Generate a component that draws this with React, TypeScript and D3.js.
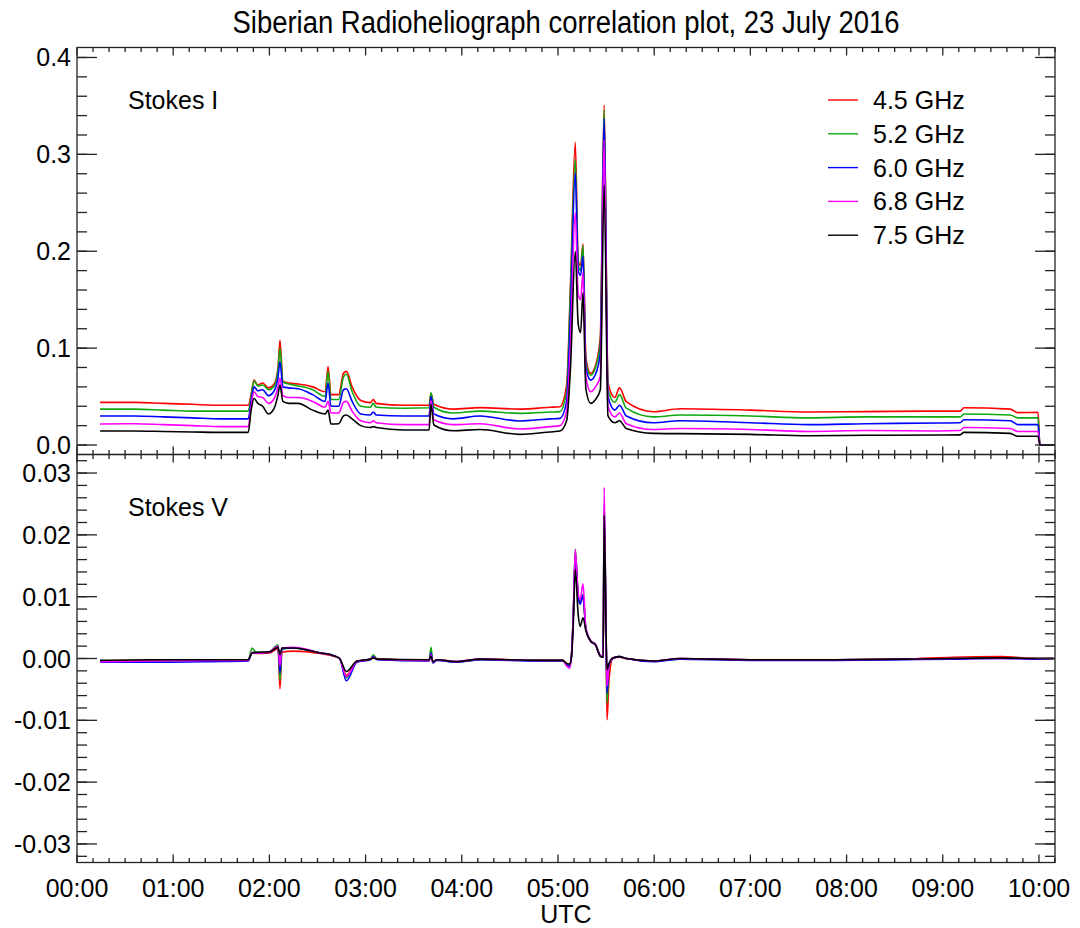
import React from "react";
import * as d3 from "d3";

const W = 1080;
const H = 928;
const left = 77;
const right = 1055;
const top1 = 47.5;
const mid = 454.5;
const bot2 = 862.5;

const freqs = ["4.5 GHz", "5.2 GHz", "6.0 GHz", "6.8 GHz", "7.5 GHz"];
const colors = ["#ff0000", "#10a810", "#0000ff", "#ff00ff", "#000000"];

// Stokes I, time in hours UTC
const tI = [0.24, 0.6, 0.9, 1.2, 1.5, 1.78, 1.81, 1.84, 1.88, 1.93, 1.99, 2.05, 2.09, 2.11, 2.14, 2.2, 2.3, 2.45, 2.58, 2.61, 2.64, 2.72, 2.77, 2.8, 2.86, 2.95, 3.05, 3.08, 3.11, 3.4, 3.66, 3.68, 3.71, 3.91, 4.19, 4.6, 4.92, 5.02, 5.09, 5.13, 5.18, 5.21, 5.235, 5.26, 5.29, 5.34, 5.39, 5.44, 5.48, 5.52, 5.59, 5.64, 5.71, 5.99, 6.27, 7.0, 7.6, 8.2, 8.95, 9.18, 9.22, 9.7, 9.78, 9.99, 10.01, 10.15];
const i45 = [0.044, 0.044, 0.043, 0.042, 0.041, 0.041, 0.052, 0.067, 0.062, 0.064, 0.059, 0.063, 0.08, 0.108, 0.066, 0.064, 0.063, 0.06, 0.055, 0.081, 0.052, 0.052, 0.074, 0.076, 0.06, 0.046, 0.0437, 0.047, 0.043, 0.041, 0.041, 0.053, 0.042, 0.037, 0.0386, 0.037, 0.039, 0.0395, 0.062, 0.165, 0.3125, 0.19, 0.185, 0.2075, 0.09, 0.074, 0.082, 0.112, 0.351, 0.064, 0.049, 0.059, 0.0447, 0.0344, 0.0375, 0.036, 0.034, 0.0345, 0.035, 0.035, 0.0385, 0.037, 0.0334, 0.0337, 0, 0];
const i52 = [0.037, 0.037, 0.036, 0.035, 0.035, 0.035, 0.05, 0.066, 0.061, 0.062, 0.057, 0.061, 0.078, 0.1, 0.065, 0.063, 0.061, 0.057, 0.05, 0.076, 0.047, 0.047, 0.07, 0.073, 0.055, 0.04, 0.039, 0.043, 0.039, 0.038, 0.0385, 0.054, 0.039, 0.033, 0.035, 0.0327, 0.034, 0.0345, 0.055, 0.16, 0.295, 0.185, 0.18, 0.206, 0.085, 0.072, 0.08, 0.105, 0.346, 0.057, 0.044, 0.052, 0.038, 0.029, 0.031, 0.03, 0.028, 0.029, 0.029, 0.029, 0.032, 0.031, 0.028, 0.028, 0, 0];
const i60 = [0.03, 0.03, 0.029, 0.028, 0.027, 0.027, 0.045, 0.06, 0.056, 0.057, 0.051, 0.056, 0.07, 0.086, 0.06, 0.059, 0.058, 0.052, 0.045, 0.064, 0.04, 0.04, 0.057, 0.058, 0.045, 0.032, 0.031, 0.034, 0.031, 0.03, 0.03, 0.05, 0.032, 0.027, 0.03, 0.0248, 0.027, 0.0275, 0.045, 0.137, 0.281, 0.18, 0.175, 0.195, 0.08, 0.067, 0.073, 0.095, 0.337, 0.05, 0.036, 0.041, 0.03, 0.023, 0.025, 0.023, 0.021, 0.022, 0.0227, 0.023, 0.026, 0.025, 0.021, 0.021, 0, 0];
const i68 = [0.0217, 0.022, 0.021, 0.02, 0.019, 0.019, 0.04, 0.055, 0.05, 0.049, 0.043, 0.048, 0.06, 0.069, 0.051, 0.049, 0.049, 0.045, 0.039, 0.045, 0.033, 0.033, 0.044, 0.045, 0.035, 0.025, 0.023, 0.025, 0.023, 0.021, 0.021, 0.046, 0.026, 0.021, 0.022, 0.0165, 0.019, 0.02, 0.035, 0.106, 0.24, 0.155, 0.15, 0.178, 0.07, 0.055, 0.06, 0.071, 0.315, 0.04, 0.029, 0.033, 0.022, 0.016, 0.017, 0.016, 0.014, 0.015, 0.0145, 0.015, 0.018, 0.017, 0.014, 0.014, 0, 0];
const i75 = [0.0145, 0.0145, 0.014, 0.0135, 0.013, 0.013, 0.036, 0.048, 0.043, 0.04, 0.032, 0.038, 0.052, 0.062, 0.045, 0.043, 0.043, 0.036, 0.032, 0.036, 0.0217, 0.022, 0.03, 0.031, 0.027, 0.02, 0.018, 0.019, 0.018, 0.0155, 0.0155, 0.042, 0.0207, 0.0147, 0.016, 0.011, 0.0135, 0.0144, 0.025, 0.08, 0.2, 0.125, 0.116, 0.157, 0.058, 0.043, 0.047, 0.057, 0.268, 0.03, 0.023, 0.025, 0.017, 0.012, 0.0117, 0.011, 0.0095, 0.01, 0.0103, 0.0105, 0.013, 0.012, 0.009, 0.009, 0, 0];

// Stokes V
const tV = [0.24, 0.8, 1.4, 1.78, 1.82, 1.86, 2.0, 2.09, 2.11, 2.13, 2.25, 2.53, 2.66, 2.73, 2.8, 2.91, 3.05, 3.08, 3.12, 3.66, 3.68, 3.7, 3.74, 3.93, 4.2, 4.8, 5.05, 5.09, 5.12, 5.14, 5.16, 5.18, 5.21, 5.23, 5.26, 5.29, 5.34, 5.39, 5.44, 5.47, 5.48, 5.5, 5.51, 5.53, 5.57, 5.64, 5.71, 5.99, 6.27, 7.0, 7.8, 8.6, 9.1, 9.6, 9.99, 10.15];
const v45 = [-0.0004, -0.0003, -0.0002, -0.0002, 0.0009, 0.0008, 0.0009, 0.0016, -0.0049, 0.001, 0.0012, 0.0008, 0.0004, 0, -0.0027, -0.0005, -0.0001, 0.0002, -0.0001, -0.0003, 0.0007, -0.0006, -0.0002, -0.0005, -0.0001, -0.0003, -0.0003, -0.0008, -0.001, 0.0006, 0.0074, 0.0165, 0.0102, 0.009, 0.01, 0.0047, 0.0028, 0.0022, 0.0004, 0.0002, 0.022, 0.003, -0.0099, -0.0035, 0, 0.0002, 0, -0.0004, 0, -0.0002, -0.0002, -0.0001, 0.0002, 0.0003, 0, 0];
const v52 = [-0.0004, -0.0004, -0.0003, -0.0002, 0.0017, 0.001, 0.0011, 0.0022, -0.0035, 0.0015, 0.0017, 0.0009, 0.0005, 0, -0.0031, -0.0005, -0.0001, 0.0006, -0.0001, -0.0003, 0.0018, -0.0007, -0.0002, -0.0006, -0.0002, -0.0003, -0.0003, -0.0009, -0.0011, 0.0004, 0.0076, 0.0177, 0.01, 0.009, 0.0104, 0.0048, 0.0029, 0.0023, 0.0005, 0.0002, 0.024, 0.0035, -0.0072, -0.0012, 0.0001, 0.0003, 0, -0.0004, -0.0001, -0.0002, -0.0002, -0.0001, 0, 0.0001, 0, 0];
const v60 = [-0.0006, -0.0006, -0.0005, -0.0004, 0.0009, 0.0009, 0.001, 0.0019, -0.0023, 0.0016, 0.0017, 0.0009, 0.0005, 0, -0.0036, -0.0006, -0.0002, 0.0003, -0.0002, -0.0004, 0.0009, -0.0007, -0.0003, -0.0006, -0.0002, -0.0004, -0.0004, -0.001, -0.0013, 0.0003, 0.0072, 0.0168, 0.01, 0.0088, 0.0102, 0.0047, 0.0028, 0.0022, 0.0004, 0.0002, 0.025, 0.0038, -0.0056, -0.001, 0, 0.0003, 0, -0.0005, -0.0001, -0.0003, -0.0003, -0.0002, -0.0001, 0, -0.0001, 0];
const v68 = [-0.0005, -0.0004, -0.0003, -0.0003, 0.001, 0.0009, 0.0011, 0.002, -0.0012, 0.0017, 0.0018, 0.0009, 0.0005, 0, -0.0029, -0.0005, -0.0001, 0.0002, -0.0001, -0.0003, 0.0006, -0.0006, -0.0002, -0.0005, -0.0001, -0.0003, -0.0003, -0.0012, -0.0016, 0.0003, 0.0074, 0.0176, 0.0105, 0.0095, 0.0121, 0.0049, 0.0029, 0.0023, 0.0005, 0.0003, 0.0277, 0.004, -0.0045, -0.001, 0.0001, 0.0003, 0, -0.0004, 0, -0.0002, -0.0002, -0.0001, 0, 0, 0, 0];
const v75 = [-0.0003, -0.0002, -0.0002, -0.0002, 0.0009, 0.001, 0.0011, 0.0018, 0.0006, 0.0017, 0.0017, 0.0009, 0.0005, 0, -0.0021, -0.0004, -0.0001, 0.0001, -0.0001, -0.0002, 0.0004, -0.0005, -0.0002, -0.0005, -0.0001, -0.0003, -0.0003, -0.0008, -0.0009, 0.0002, 0.006, 0.0144, 0.0071, 0.0052, 0.0066, 0.0045, 0.0028, 0.0022, 0.0004, 0.0002, 0.0232, 0.0041, -0.0018, -0.0008, 0.0001, 0.0003, 0, -0.0004, 0, -0.0002, -0.0002, -0.0001, 0, 0.0001, 0, 0];

const seriesI = [i45, i52, i60, i68, i75];
const seriesV = [v45, v52, v60, v68, v75];

const font = "'Liberation Sans', Arial, Helvetica, sans-serif";
const axisColor = "#222";

const x = d3.scaleLinear().domain([0, 10 + 10 / 60]).range([left, right]);
const yI = d3.scaleLinear().domain([-0.0098, 0.4103]).range([mid, top1]);
const yV = d3.scaleLinear().domain([-0.033, 0.033]).range([bot2, mid]);

const xMajor = d3.range(0, 11, 1);
const xMinor = d3.range(0, 62, 1).map((d) => d / 6);
const fmtHour = (h: number) => `${String(Math.round(h)).padStart(2, "0")}:00`;

function Panel({ y, t, series, majors, minors, fmt, label, y0, y1, bottomLabels }: any) {
  const line = d3
    .line<number>()
    .x((_, i) => x(t[i]))
    .y((d) => y(d))
    .curve(d3.curveMonotoneX);
  return (
    <g>
      {series.map((s: number[], k: number) => (
        <path key={k} d={line(s) || ""} fill="none" stroke={colors[k]} strokeWidth={1.6} strokeLinejoin="round" />
      ))}
      <rect x={left} y={y1} width={right - left} height={y0 - y1} fill="none" stroke={axisColor} strokeWidth={1.3} />
      {minors.map((v: number, i: number) => (
        <g key={"m" + i} stroke={axisColor} strokeWidth={1.3}>
          <line x1={left} x2={left + 10} y1={y(v)} y2={y(v)} />
          <line x1={right} x2={right - 10} y1={y(v)} y2={y(v)} />
        </g>
      ))}
      {majors.map((v: number, i: number) => (
        <g key={"M" + i}>
          <line x1={left} x2={left + 20} y1={y(v)} y2={y(v)} stroke={axisColor} strokeWidth={1.3} />
          <line x1={right} x2={right - 20} y1={y(v)} y2={y(v)} stroke={axisColor} strokeWidth={1.3} />
          <text x={left - 6} y={y(v)} dy="0.36em" textAnchor="end" fontSize={25} fontFamily={font}>
            {fmt(v)}
          </text>
        </g>
      ))}
      {xMinor.map((h: number, i: number) => {
        const len = i % 6 === 0 ? 8 : 4.5;
        return (
          <g key={"x" + i} stroke={axisColor} strokeWidth={1.3}>
            <line x1={x(h)} x2={x(h)} y1={y1} y2={y1 + len} />
            <line x1={x(h)} x2={x(h)} y1={y0} y2={y0 - len} />
          </g>
        );
      })}
      {bottomLabels &&
        xMajor.map((h: number) => (
          <text key={"xl" + h} x={x(h)} y={897} textAnchor="middle" fontSize={25} fontFamily={font}>
            {fmtHour(h)}
          </text>
        ))}
      <text x={128} y={y1 + 61} fontSize={25} fontFamily={font}>
        {label}
      </text>
    </g>
  );
}

export default function App() {
  const majI = d3.range(0, 0.41, 0.1);
  const minI = d3.range(0, 0.41, 0.02);
  const majV = d3.range(-0.03, 0.031, 0.01);
  const minV = d3.range(-0.032, 0.033, 0.002);
  const fmtI = (v: number) => v.toFixed(1);
  const fmtV = (v: number) => (Math.abs(v) < 1e-9 ? "0.00" : v.toFixed(2));
  return (
    <svg width={W} height={H} style={{ position: "absolute", left: 0, top: 0, background: "#fff" }}>
      <text x={566} y={33} textAnchor="middle" fontSize={31} fontFamily={font} textLength={667} lengthAdjust="spacingAndGlyphs">
        Siberian Radioheliograph correlation plot, 23 July 2016
      </text>
      <Panel y={yI} t={tI} series={seriesI} majors={majI} minors={minI} fmt={fmtI} label="Stokes I" y0={mid} y1={top1} bottomLabels={false} />
      <Panel y={yV} t={tV} series={seriesV} majors={majV} minors={minV} fmt={fmtV} label="Stokes V" y0={bot2} y1={mid} bottomLabels={true} />
      {freqs.map((f, k) => {
        const cy = 100 + k * 33.8;
        return (
          <g key={f}>
            <line x1={828} x2={858} y1={cy} y2={cy} stroke={colors[k]} strokeWidth={1.4} />
            <text x={873} y={cy + 9} fontSize={25} fontFamily={font}>
              {f}
            </text>
          </g>
        );
      })}
      <text x={566} y={923} textAnchor="middle" fontSize={25} fontFamily={font}>
        UTC
      </text>
    </svg>
  );
}
